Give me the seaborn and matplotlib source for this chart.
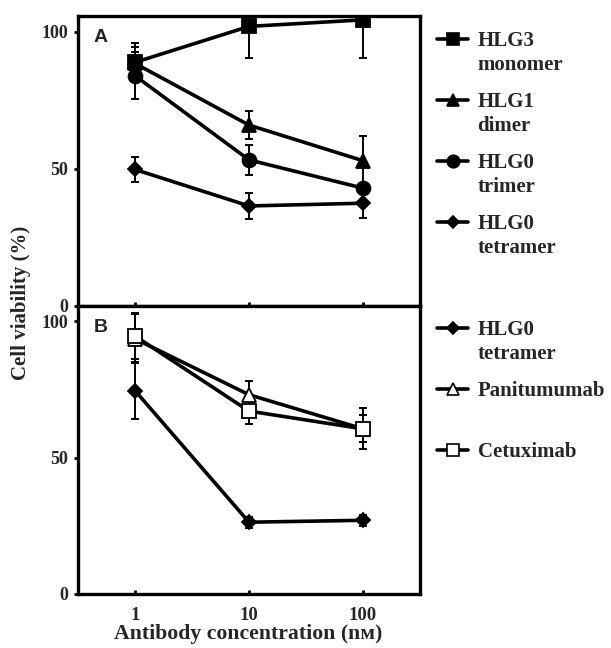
import numpy as np
import pandas as pd
import matplotlib
matplotlib.use("Agg")
import matplotlib.pyplot as plt
from matplotlib.lines import Line2D
import seaborn as sns

# ---- data ----
conc = [1, 10, 100]

a_series = ["HLG3\nmonomer", "HLG1\ndimer", "HLG0\ntrimer", "HLG0\ntetramer"]
a_monomer = [88.9, 102.0, 104.4]
a_monomer_err = [7.0, 11.5, 14.0]
a_dimer = [88.5, 66.0, 53.0]
a_dimer_err = [6.0, 5.0, 9.0]
a_trimer = [84.0, 53.3, 43.0]
a_trimer_err = [8.5, 5.5, 1.0]
a_tetramer = [49.8, 36.5, 37.5]
a_tetramer_err = [4.7, 4.8, 5.5]

b_series = ["HLG0\ntetramer", "Panitumumab", "Cetuximab"]
b_tetramer = [74.5, 26.3, 27.0]
b_tetramer_err = [10.4, 2.0, 2.0]
b_panitumumab = [93.5, 73.0, 60.5]
b_panitumumab_err = [9.0, 5.0, 5.0]
b_cetuximab = [94.5, 67.0, 60.5]
b_cetuximab_err = [8.5, 4.7, 7.5]

yticks = [0, 50, 100]
xticklabels = ["1", "10", "100"]

# ---- style ----
sns.set_theme(style="ticks")
plt.rcParams["font.family"] = ["Liberation Serif", "DejaVu Serif"]
plt.rcParams["font.weight"] = "bold"

W, H = 611, 648
fig = plt.figure(figsize=(W / 100, H / 100), dpi=100)
L, R = 78 / W, 420 / W
axA = fig.add_axes([L, 1 - 306 / H, R - L, 290 / H])
axB = fig.add_axes([L, 1 - 594 / H, R - L, 288 / H])

def make_df(names, vals):
    rows = []
    for n, v in zip(names, vals):
        for x, y in zip(conc, v):
            rows.append({"conc": x, "viab": y, "series": n})
    return pd.DataFrame(rows)

a_vals = [a_monomer, a_dimer, a_trimer, a_tetramer]
a_errs = [a_monomer_err, a_dimer_err, a_trimer_err, a_tetramer_err]
a_markers = ["s", "^", "o", "D"]
a_msize = [9.5, 10, 10, 7]

b_vals = [b_tetramer, b_panitumumab, b_cetuximab]
b_errs = [b_tetramer_err, b_panitumumab_err, b_cetuximab_err]
b_markers = ["D", "^", "s"]
b_msize = [7, 10, 10]
b_face = ["black", "white", "white"]

def draw(ax, names, vals, errs, markers, msizes, faces, ylim_top, label):
    df = make_df(names, vals)
    for n, v, e in zip(names, vals, errs):
        ax.errorbar(conc, v, yerr=e, fmt="none", ecolor="black",
                    elinewidth=1.4, capsize=3, capthick=1.4, zorder=1)
    n0 = len(ax.lines)
    sns.lineplot(data=df, x="conc", y="viab", hue="series", style="series",
                 hue_order=names, style_order=names,
                 palette=["black"] * len(names),
                 markers=dict(zip(names, markers)), dashes=False,
                 linewidth=2.6, ax=ax, legend=False, zorder=3)
    for ln, ms, fc in zip(ax.lines[n0:], msizes, faces):
        ln.set_markersize(ms)
        ln.set_markerfacecolor(fc)
        ln.set_markeredgecolor("black")
        ln.set_markeredgewidth(1.3)
    ax.set_xscale("log")
    ax.set_xlim(10 ** -0.5, 10 ** 2.5)
    ax.set_ylim(0, ylim_top)
    ax.set_yticks(yticks)
    ax.set_yticklabels([str(t) for t in yticks], fontsize=13, fontweight="bold")
    ax.set_xticks(conc)
    ax.minorticks_off()
    ax.set_xlabel("")
    ax.set_ylabel("")
    for s in ax.spines.values():
        s.set_linewidth(2.4)
        s.set_color("black")
    ax.tick_params(axis="y", direction="out", length=3, width=2, color="black",
                   labelsize=13, pad=4)
    ax.tick_params(axis="x", direction="in", length=3, width=2, color="black",
                   labelsize=13.5, pad=9)
    ax.text(0.045, 0.955, label, transform=ax.transAxes, ha="left", va="top",
            fontsize=14, fontweight="bold", family="Liberation Sans")
    handles = [Line2D([], [], color="black", linewidth=2.6, marker=m,
                      markersize=ms * 0.9, markerfacecolor=fc,
                      markeredgecolor="black", markeredgewidth=1.2)
               for m, ms, fc in zip(markers, msizes, faces)]
    return handles

hA = draw(axA, a_series, a_vals, a_errs, a_markers, a_msize,
          ["black"] * 4, 105.8, "A")
hB = draw(axB, b_series, b_vals, b_errs, b_markers, b_msize,
          b_face, 105.5, "B")

axA.set_xticklabels([])
axB.set_xticklabels(xticklabels, fontsize=13.5, fontweight="bold")

legprop = {"family": "Liberation Serif", "weight": "bold", "size": 15}

def legend_with_sublines(handles, labels, first_center_px):
    firsts = [s.split("\n")[0] for s in labels]
    leg = fig.legend(handles, firsts, loc="upper left",
                     bbox_to_anchor=(437 / W, 1 - (first_center_px - 12) / H),
                     frameon=False, handlelength=1.5, handletextpad=0.45,
                     labelspacing=1.97, borderpad=0, borderaxespad=0,
                     prop=legprop)
    fig.canvas.draw()
    for t, full in zip(leg.get_texts(), labels):
        parts = full.split("\n")
        if len(parts) > 1:
            bb = t.get_window_extent()
            xf = bb.x0 / W
            yc = (bb.y0 + bb.y1) / 2 - 24
            fig.text(xf, yc / H, parts[1], ha="left", va="center",
                     fontsize=15, fontweight="bold", family="Liberation Serif")
    return leg

legA = legend_with_sublines(hA, a_series, 43)
legB = legend_with_sublines(hB, b_series, 332)

fig.text(21 / W, 1 - 302.5 / H, "Cell viability (%)", rotation=90,
         ha="center", va="center", fontsize=15, fontweight="bold")
fig.text(248 / W, 1 - 634 / H, "Antibody concentration (nᴍ)",
         ha="center", va="center", fontsize=15.7, fontweight="bold")

fig.savefig("out.png", dpi=100)
